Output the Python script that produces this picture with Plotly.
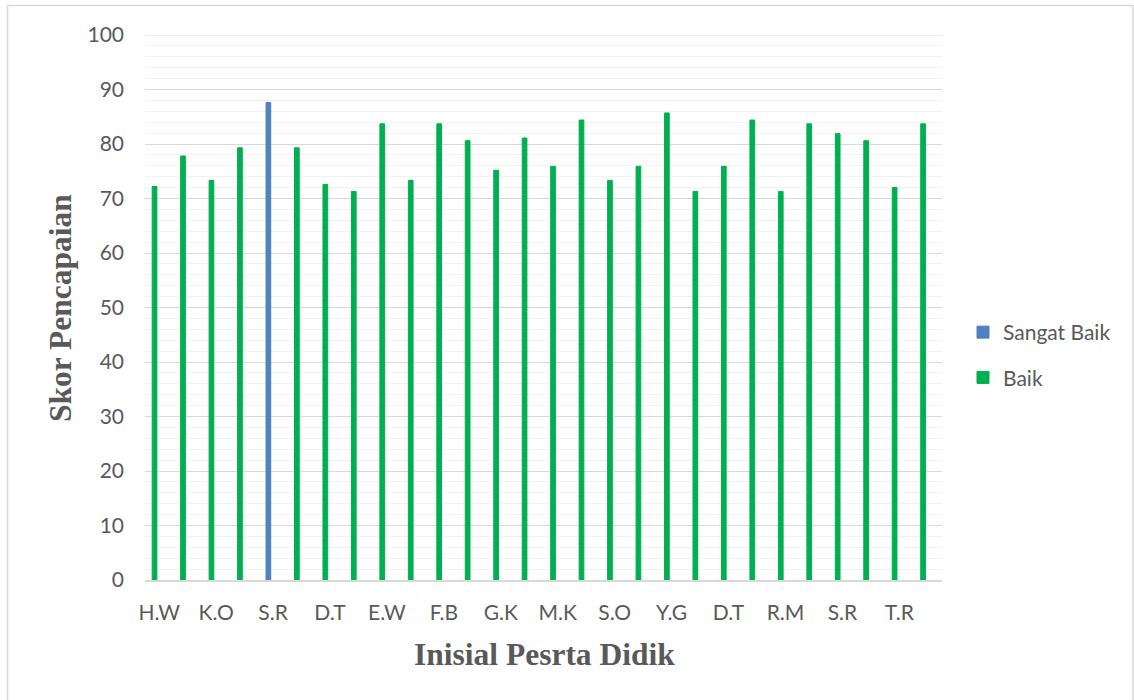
import plotly.graph_objects as go

# Student score data (28 students, two achievement categories)
tick_labels = ["H.W", "K.O", "S.R", "D.T", "E.W", "F.B", "G.K",
               "M.K", "S.O", "Y.G", "D.T", "R.M", "S.R", "T.R"]

sangat_baik = [None, None, None, None, 87.6, None, None, None, None, None,
               None, None, None, None, None, None, None, None, None, None,
               None, None, None, None, None, None, None, None]

baik = [72.2, 77.8, 73.3, 79.3, None, 79.3, 72.6, 71.3, 83.7, 73.3,
        83.7, 80.6, 75.2, 81.1, 75.9, 84.4, 73.3, 75.9, 85.7, 71.3,
        75.9, 84.4, 71.3, 83.7, 81.9, 80.6, 72.0, 83.7]

x_idx = list(range(len(baik)))
tick_pos = x_idx[::2]

W, H = 1134, 700
L, R, T, B = 145, 192, 35, 120
pw, ph = W - L - R, H - T - B

TEXT = "#595959"
GRID = "#d9d9d9"
MINOR = "#f2f2f2"
TICK_FONT = dict(family="Lato, 'Open Sans', sans-serif", size=21, color=TEXT)
TITLE_FONT = dict(family="'Liberation Serif', 'Times New Roman', serif", size=31.5, color=TEXT)

BAR_W = 0.165
BAR_OFF = -0.2475
Y_MAX = 100

fig = go.Figure()
fig.add_trace(go.Bar(
    x=x_idx, y=sangat_baik, name="Sangat Baik",
    marker=dict(color="#4f81bd", line=dict(color="#4f81bd", width=1)),
    width=BAR_W, offset=BAR_OFF, legendgroup="a",
))
fig.add_trace(go.Bar(
    x=x_idx, y=baik, name="Baik",
    marker=dict(color="#00b050", line=dict(color="#00b050", width=1)),
    width=BAR_W, offset=BAR_OFF, legendgroup="b",
))


def px_x(p):
    return (p - L) / pw


def px_y(p):
    return (H - B - p) / ph


fig.update_layout(
    width=W, height=H,
    margin=dict(l=L, r=R, t=T, b=B, pad=0),
    paper_bgcolor="white", plot_bgcolor="white",
    barmode="overlay",
    showlegend=True,
    legend=dict(
        x=px_x(963), y=px_y(312), xanchor="left", yanchor="top",
        font=TICK_FONT, tracegroupgap=15, bgcolor="rgba(0,0,0,0)",
        traceorder="grouped",
    ),
    xaxis=dict(
        range=[-0.5, len(baik) - 0.5],
        tickmode="array", tickvals=tick_pos, ticktext=tick_labels,
        tickfont=TICK_FONT, showgrid=False, zeroline=False,
        showline=True, linecolor=GRID, linewidth=1.5,
        ticks="", ticklabelstandoff=13,
    ),
    yaxis=dict(
        range=[0, Y_MAX], tickmode="array",
        tickvals=list(range(0, Y_MAX + 1, 10)), tickfont=TICK_FONT,
        showgrid=True, gridcolor=GRID, gridwidth=1.2,
        zeroline=False, showline=False, ticks="",
        ticklabelstandoff=20,
        minor=dict(dtick=2, showgrid=True, gridcolor=MINOR, gridwidth=1.4),
    ),
    annotations=[
        dict(text="<b>Skor Pencapaian</b>", textangle=-90,
             x=px_x(60), y=px_y(308), xref="paper", yref="paper",
             xanchor="center", yanchor="middle", showarrow=False, font=TITLE_FONT),
        dict(text="<b>Inisial Pesrta Didik</b>",
             x=px_x(544), y=px_y(654), xref="paper", yref="paper",
             xanchor="center", yanchor="middle", showarrow=False, font=TITLE_FONT),
    ],
    shapes=[
        # outer chart frame
        dict(type="rect", xref="paper", yref="paper",
             x0=px_x(7.5), x1=px_x(1133), y0=px_y(705), y1=px_y(5.5),
             line=dict(color=GRID, width=1.5), fillcolor="rgba(0,0,0,0)",
             layer="below"),
        # top major gridline at the range edge
        dict(type="line", xref="paper", yref="y",
             x0=0, x1=1, y0=Y_MAX, y1=Y_MAX,
             line=dict(color=GRID, width=1.2), layer="below"),
    ],
)

fig.write_html("out.html")
